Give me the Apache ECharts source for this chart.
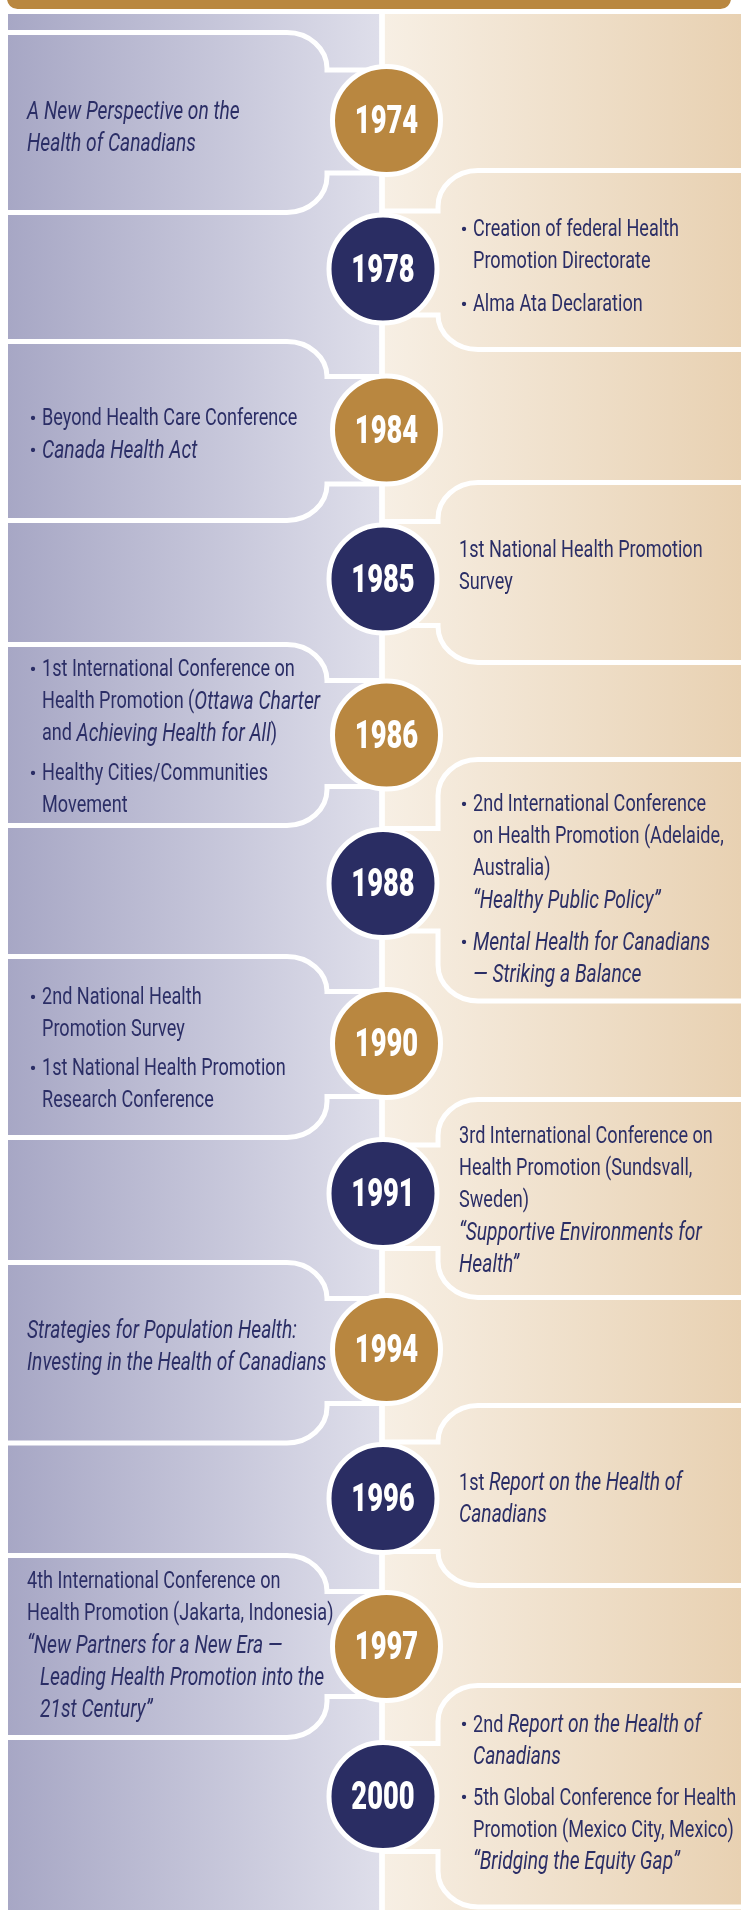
<!DOCTYPE html>
<html>
<head>
<meta charset="utf-8">
<script src="https://cdn.jsdelivr.net/npm/echarts@6/dist/echarts.min.js"></script>
<style>
  html, body { margin: 0; padding: 0; background: #fff; }
  #main { width: 741px; height: 1911px; }
</style>
</head>
<body>
<div id="main"></div>
<script>
// timeline events (y positions are in the chart's own vertical scale, 0..1911)
const years = ['1974', '1978', '1984', '1985', '1986', '1988', '1990', '1991', '1994', '1996', '1997', '2000'];
const sides = ['L', 'R', 'L', 'R', 'L', 'R', 'L', 'R', 'L', 'R', 'L', 'R'];
const circleY = [120.5, 269, 430, 579, 735, 883.5, 1043.5, 1193.5, 1349.5, 1498.5, 1646.5, 1796.5];
const panelTop = [32.5, 170.5, 341.5, 482.5, 644.5, 759.5, 956.5, 1099.5, 1262.5, 1405.5, 1555.5, 1685.5];
const neckTop = [70, 211, 376.5, 521.5, 680.5, 828.5, 991.5, 1145, 1298.5, 1442, 1591.5, 1743.5];
const neckBottom = [173, 315, 484, 625.5, 786.5, 931, 1096.5, 1248.5, 1403.5, 1551.5, 1696.5, 1851.5];
const panelBottom = [212.5, 349.5, 520.5, 662.5, 825.5, 1001, 1137.5, 1297.5, 1443, 1585.5, 1737.5, 1907];

// notes: paragraphs of lines, {i|...} = italic, leading \t = hanging indent
const noteText = [
  [['{i|A New Perspective on the}', '{i|Health of Canadians}']],
  [['Creation of federal Health', 'Promotion Directorate'], ['Alma Ata Declaration']],
  [['Beyond Health Care Conference'], ['{i|Canada Health Act}']],
  [['1st National Health Promotion', 'Survey']],
  [['1st International Conference on', 'Health Promotion ({i|Ottawa Charter}', 'and {i|Achieving Health for All})'],
   ['Healthy Cities/Communities', 'Movement']],
  [['2nd International Conference', 'on Health Promotion (Adelaide,', 'Australia)', '{i|“Healthy Public Policy”}'],
   ['{i|Mental Health for Canadians}', '{i|— Striking a Balance}']],
  [['2nd National Health', 'Promotion Survey'], ['1st National Health Promotion', 'Research Conference']],
  [['3rd International Conference on', 'Health Promotion (Sundsvall,', 'Sweden)',
    '{i|“Supportive Environments for}', '{i|Health”}']],
  [['{i|Strategies for Population Health:}', '{i|Investing in the Health of Canadians}']],
  [['1st {i|Report on the Health of}', '{i|Canadians}']],
  [['4th International Conference on', 'Health Promotion (Jakarta, Indonesia)', '{i|“New Partners for a New Era —}',
    '\t{i|Leading Health Promotion into the}', '\t{i|21st Century”}']],
  [['2nd {i|Report on the Health of}', '{i|Canadians}'],
   ['5th Global Conference for Health', 'Promotion (Mexico City, Mexico)', '{i|“Bridging the Equity Gap”}']]
];
const noteBullet = [false, true, true, false, true, true, true, false, false, false, false, true];
const noteFirstY = [110, 228, 417, 548.5, 668, 803, 996, 1135, 1329.5, 1481.7, 1580, 1723.3];
const paraGap = [0, 11, 0, 0, 8, 10, 7, 0, 0, 0, 0, 9];

const GOLD = '#b98740';
const NAVY = '#2a2d63';
const INK = '#2b2e66';
const FONT = 'Roboto, "Noto Sans", sans-serif';
const TEXT_SCALE = 0.77;
const LINE_H = 32;
const TEXT_DY = 2.5;
const CENTER_X = 382;

// flatten notes into one row per text line
const lineRows = [];
noteText.forEach((paras, e) => {
  let y = noteFirstY[e];
  paras.forEach((lines, p) => {
    if (p > 0) y += paraGap[e];
    lines.forEach((txt, k) => {
      lineRows.push({ e: e, y: y, text: txt, bullet: noteBullet[e] && k === 0 });
      y += LINE_H;
    });
  });
});

const chart = echarts.init(document.getElementById('main'));

function bgItem(params, api) {
  const L = params.dataIndex === 0;
  const a = api.coord(L ? [8, 14] : [384.5, 14]);
  const b = api.coord(L ? [379.5, 1910] : [741, 1910]);
  const stops = L
    ? [{ offset: 0, color: '#a7a7c5' }, { offset: 1, color: '#dedeea' }]
    : [{ offset: 0, color: '#f7efe4' }, { offset: 1, color: '#e8d1b2' }];
  return {
    type: 'rect',
    shape: { x: a[0], y: a[1], width: b[0] - a[0], height: b[1] - a[1] },
    style: { fill: new echarts.graphic.LinearGradient(0, 0, 1, 0, stops) }
  };
}

function topItem(params, api) {
  const a = api.coord([4.5, -20]);
  const b = api.coord([733.5, 11.5]);
  const c = api.coord([CENTER_X, 11]);
  const d = api.coord([CENTER_X, 1911]);
  return {
    type: 'group',
    children: [
      { type: 'line', shape: { x1: c[0], y1: c[1], x2: d[0], y2: d[1] }, style: { stroke: '#fff', lineWidth: 5.5 } },
      {
        type: 'rect',
        shape: { x: a[0], y: a[1], width: b[0] - a[0], height: b[1] - a[1], r: [0, 0, 13, 13] },
        style: { fill: GOLD, stroke: '#fff', lineWidth: 5 }
      }
    ]
  };
}

function panelItem(params, api) {
  const i = params.dataIndex;
  const L = sides[i] === 'L';
  const edge = L ? 327 : 438;
  const dir = L ? -1 : 1;
  const far = L ? -10 : 760;
  const rx = 40;
  const ryT = Math.min(36, neckTop[i] - panelTop[i]);
  const ryB = Math.min(36, panelBottom[i] - neckBottom[i]);
  const k = 0.45;
  const P = (x, y) => api.coord([x, y]).join(' ');
  const t = panelTop[i], bt = panelBottom[i];
  const d =
    'M' + P(far, t) + ' L' + P(edge + dir * rx, t) +
    ' C' + P(edge + dir * rx * k, t) + ' ' + P(edge, t + ryT * k) + ' ' + P(edge, t + ryT) +
    ' L' + P(edge, neckTop[i]) + ' L' + P(CENTER_X, neckTop[i]) +
    ' M' + P(CENTER_X, neckBottom[i]) + ' L' + P(edge, neckBottom[i]) +
    ' L' + P(edge, bt - ryB) +
    ' C' + P(edge, bt - ryB * k) + ' ' + P(edge + dir * rx * k, bt) + ' ' + P(edge + dir * rx, bt) +
    ' L' + P(far, bt);
  return {
    type: 'path',
    shape: { pathData: d },
    style: { fill: 'none', stroke: '#fff', lineWidth: 5 }
  };
}

const richStyles = {
  n: { font: '23.5px ' + FONT, fill: INK },
  i: { font: 'italic 25px ' + FONT, fill: INK }
};

function toRich(txt) {
  return txt.replace(/^([^{]+)/, '{n|$1}').replace(/\}([^{]+)$/, '}{n|$1}').replace(/\}([^{}]+)\{/g, '}{n|$1}{');
}

function textItem(params, api) {
  const row = lineRows[params.dataIndex];
  const L = sides[row.e] === 'L';
  let txt = row.text;
  let indent = 0;
  if (txt.charAt(0) === '\t') { txt = txt.slice(1); indent = 13; }
  let x;
  if (noteBullet[row.e]) x = L ? 42 : 473;
  else x = (L ? 27 : 459) + indent;
  const pos = api.coord([x, row.y + TEXT_DY]);
  const children = [{
    type: 'text',
    x: pos[0], y: pos[1],
    scaleX: TEXT_SCALE,
    style: {
      text: toRich(txt),
      rich: richStyles,
      font: '23.5px ' + FONT,
      fill: INK,
      textAlign: 'left',
      textVerticalAlign: 'middle'
    }
  }];
  if (row.bullet) {
    const bp = api.coord([L ? 29.5 : 460.5, row.y + TEXT_DY]);
    children.push({
      type: 'text', x: bp[0], y: bp[1],
      style: { text: '•', font: '21px ' + FONT, fill: INK, textAlign: 'left', textVerticalAlign: 'middle' }
    });
  }
  return { type: 'group', children: children };
}

function yearItem(params, api) {
  const i = params.dataIndex;
  const pos = api.coord([sides[i] === 'L' ? 386.5 : 383, circleY[i] + 3]);
  return {
    type: 'text',
    x: pos[0], y: pos[1],
    scaleX: 0.72,
    style: {
      text: years[i],
      font: '900 38px ' + FONT,
      fill: '#fff',
      textAlign: 'center',
      textVerticalAlign: 'middle'
    }
  };
}

const option = {
  animation: false,
  grid: { left: 0, right: 0, top: 0, bottom: 0 },
  xAxis: { type: 'value', min: 0, max: 741, show: false },
  yAxis: { type: 'value', min: 0, max: 1911, inverse: true, show: false },
  series: [
    { type: 'custom', renderItem: bgItem, data: [0, 1], silent: true, z: 1 },
    { type: 'custom', renderItem: panelItem, data: years.map((y, i) => i), silent: true, z: 2 },
    { type: 'custom', renderItem: topItem, data: [0], silent: true, z: 3 },
    {
      type: 'scatter',
      z: 4,
      silent: true,
      symbol: 'circle',
      symbolSize: 108,
      data: years.map((y, i) => ({
        value: [sides[i] === 'L' ? 386.5 : 383, circleY[i]],
        itemStyle: { color: sides[i] === 'L' ? GOLD : NAVY }
      })),
      itemStyle: { borderColor: '#fff', borderWidth: 5, opacity: 1 }
    },
    { type: 'custom', renderItem: yearItem, data: years.map((y, i) => i), silent: true, z: 6 },
    { type: 'custom', renderItem: textItem, data: lineRows.map((r, i) => i), silent: true, z: 5 }
  ]
};

chart.setOption(option);
window.addEventListener('resize', () => chart.resize());
</script>
</body>
</html>
